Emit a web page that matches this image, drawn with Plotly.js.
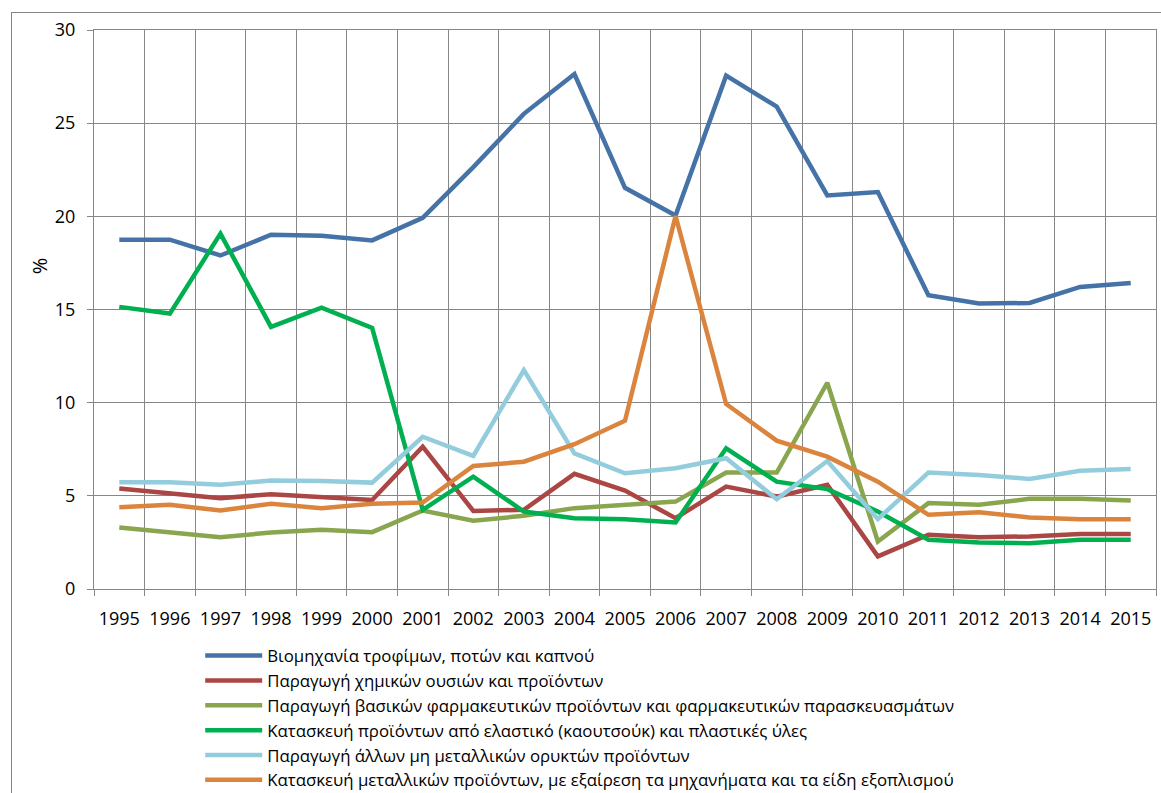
<!DOCTYPE html>
<html>
<head>
<meta charset="utf-8">
<script src="https://cdn.plot.ly/plotly-3.0.1.min.js"></script>
<style>
  html, body { margin: 0; padding: 0; background: #fff; overflow: hidden; }
  #wrap { position: relative; width: 1161px; height: 793px; overflow: hidden; }
  #chart { position: absolute; left: 0; top: 0; width: 1161px; height: 793px; }
  #frame { position: absolute; left: 11px; top: 12px; width: 1300px; height: 1000px;
           border: 1px solid #868686; pointer-events: none; }
</style>
</head>
<body>
<div id="wrap">
  <div id="chart"></div>
  <div id="frame"></div>
</div>
<script>
const years = ["1995","1996","1997","1998","1999","2000","2001","2002","2003","2004","2005","2006","2007","2008","2009","2010","2011","2012","2013","2014","2015"];

const seriesNames = [
  "Βιομηχανία τροφίμων, ποτών και καπνού",
  "Παραγωγή χημικών ουσιών και προϊόντων",
  "Παραγωγή βασικών φαρμακευτικών προϊόντων και φαρμακευτικών παρασκευασμάτων",
  "Κατασκευή προϊόντων από ελαστικό (καουτσούκ) και πλαστικές ύλες",
  "Παραγωγή άλλων μη μεταλλικών ορυκτών προϊόντων",
  "Κατασκευή μεταλλικών προϊόντων, με εξαίρεση τα μηχανήματα και τα είδη εξοπλισμού"
];

const food      = [18.75, 18.75, 17.9, 19.01, 18.96, 18.71, 19.92, 22.64, 25.5, 27.64, 21.53, 20.05, 27.55, 25.89, 21.12, 21.3, 15.76, 15.32, 15.35, 16.21, 16.42];
const chemicals = [5.39, 5.14, 4.87, 5.09, 4.96, 4.78, 7.64, 4.19, 4.25, 6.18, 5.28, 3.8, 5.5, 4.96, 5.59, 1.75, 2.91, 2.78, 2.82, 2.95, 2.95];
const pharma    = [3.3, 3.03, 2.78, 3.03, 3.18, 3.05, 4.21, 3.66, 3.93, 4.34, 4.52, 4.69, 6.25, 6.25, 11.07, 2.55, 4.61, 4.52, 4.84, 4.84, 4.75];
const rubber    = [15.14, 14.78, 19.07, 14.07, 15.1, 14.01, 4.25, 6.03, 4.16, 3.8, 3.75, 3.57, 7.55, 5.76, 5.36, 4.16, 2.64, 2.5, 2.46, 2.64, 2.64];
const minerals  = [5.73, 5.73, 5.59, 5.82, 5.8, 5.71, 8.17, 7.14, 11.75, 7.28, 6.21, 6.48, 7.02, 4.82, 6.87, 3.75, 6.25, 6.12, 5.91, 6.34, 6.44];
const metal     = [4.39, 4.52, 4.21, 4.57, 4.34, 4.57, 4.64, 6.6, 6.83, 7.77, 9.03, 20.02, 9.93, 7.96, 7.1, 5.76, 3.98, 4.12, 3.84, 3.75, 3.75];

const colors = ["#4572A7", "#AA4643", "#89A54E", "#00B050", "#93CDDD", "#DB843D"];
const values = [food, chemicals, pharma, rubber, minerals, metal];

const font = "Open Sans, Noto Sans, DejaVu Sans, sans-serif";

const traces = values.map((v, i) => ({
  type: "scatter",
  mode: "lines",
  x: years,
  y: v,
  name: seriesNames[i],
  line: { color: colors[i], width: 4.5 },
  hoverinfo: "x+y+name"
}));

const layout = {
  width: 1161,
  height: 793,
  paper_bgcolor: "#ffffff",
  plot_bgcolor: "#ffffff",
  margin: { l: 94, r: 5, t: 30, b: 204, autoexpand: false },
  showlegend: true,
  font: { family: font, color: "#000", size: 16 },
  xaxis: {
    type: "category",
    range: [-0.5, 20.5],
    tickson: "boundaries",
    showgrid: true,
    gridcolor: "#878787",
    gridwidth: 1,
    ticks: "outside",
    ticklen: 6,
    tickcolor: "#878787",
    showline: true,
    linecolor: "#878787",
    linewidth: 1,
    mirror: true,
    tickfont: { family: font, size: 18, color: "#000" },
    ticklabelstandoff: 13,
    fixedrange: true
  },
  yaxis: {
    range: [0, 30],
    dtick: 5,
    tick0: 0,
    showgrid: true,
    gridcolor: "#878787",
    gridwidth: 1,
    zeroline: false,
    ticks: "outside",
    ticklen: 6,
    tickcolor: "#878787",
    showline: true,
    linecolor: "#878787",
    linewidth: 1,
    mirror: true,
    tickfont: { family: font, size: 18, color: "#000" },
    ticklabelstandoff: 8,
    fixedrange: true
  },
  legend: {
    orientation: "v",
    x: 0.1,
    xanchor: "left",
    y: -0.088,
    yanchor: "top",
    font: { family: font, size: 16.8, color: "#000" },
    bgcolor: "rgba(0,0,0,0)",
    borderwidth: 0,
    itemwidth: 57,
    tracegroupgap: 0
  },
  annotations: [{
    text: "%",
    xref: "paper",
    yref: "paper",
    x: -0.051,
    y: 0.579,
    xanchor: "center",
    yanchor: "middle",
    textangle: -90,
    showarrow: false,
    font: { family: font, size: 20, color: "#000" }
  }]
};

Plotly.newPlot("chart", traces, layout, { displayModeBar: false, staticPlot: true });
</script>
</body>
</html>
